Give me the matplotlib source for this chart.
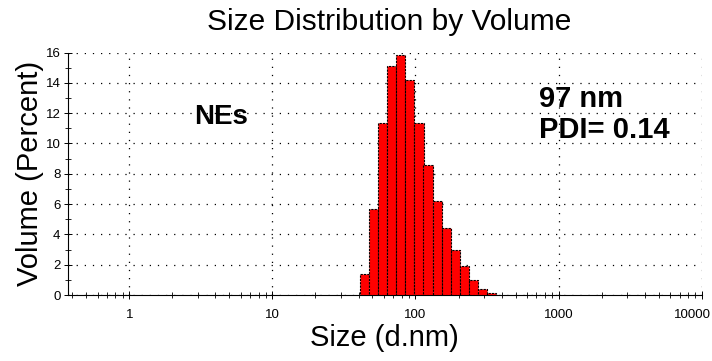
import numpy as np
import matplotlib
matplotlib.use("Agg")
import matplotlib.pyplot as plt
import matplotlib.transforms as mtransforms

plt.rcParams['font.family'] = ['Liberation Sans', 'DejaVu Sans']

# size classes (d.nm) and volume percent per class
sizes = [43.82, 50.75, 58.77, 68.06, 78.82, 91.28, 105.7, 122.4,
         141.8, 164.2, 190.1, 220.2, 255.0, 295.3, 342.0]
volume = [1.36, 5.65, 11.37, 15.14, 15.85, 14.16, 11.37, 8.59,
          6.20, 4.40, 2.98, 1.91, 0.96, 0.42, 0.13]

xticks = [1, 10, 100, 1000, 10000]
xticklabels = ['1', '10', '100', '1000', '10000']
yticks = [0, 2, 4, 6, 8, 10, 12, 14, 16]

W, H = 712, 361
fig = plt.figure(figsize=(W / 100, H / 100), dpi=100)
ax = fig.add_axes([67.5 / W, 1 - 295 / H, (701.7 - 67.5) / W, (295 - 52.5) / H])

# bars span the geometric midpoints between neighbouring size classes
c = np.array(sizes)
ratio = np.sqrt(c[1] / c[0])
left = c / ratio
right = c * ratio
ax.bar(left, volume, width=right - left, align='edge', color='#ff0000',
       edgecolor='black', linewidth=0.8, linestyle=(0, (2, 1)), zorder=3)

ax.set_xscale('log')
ax.set_xlim(0.37, 10000)
ax.set_ylim(0, 16)
ax.set_xticks(xticks)
ax.set_xticklabels(xticklabels)
ax.set_yticks(yticks)
ax.set_yticks(np.arange(1, 16, 2), minor=True)

ax.grid(True, which='major', color='black', linestyle=(0, (1, 5.5)), linewidth=0.9)
for side in ('top', 'right'):
    ax.spines[side].set_visible(False)
for side in ('bottom', 'left'):
    ax.spines[side].set_linestyle((0, (2, 1)))
    ax.spines[side].set_linewidth(0.8)

ax.tick_params(which='major', direction='inout', length=6, width=0.7,
               labelsize=9.5, pad=2)
ax.tick_params(which='minor', direction='inout', length=5, width=0.6)
ax.tick_params(axis='x', which='major', pad=7)

# keep the last size label inside the figure
last = ax.get_xticklabels()[-1]
last.set_transform(last.get_transform() +
                   mtransforms.ScaledTranslation(-9 / 100, 0, fig.dpi_scale_trans))

ax.set_title('Size Distribution by Volume', fontsize=21.5, pad=16.5, x=0.507)
ax.set_xlabel('Size (d.nm)', fontsize=21, labelpad=2)
ax.set_ylabel('Volume (Percent)', fontsize=21, labelpad=1)

ax.text(4.4, 11.75, 'NEs', fontsize=20, fontweight='bold', ha='center', va='center')
ax.text(730, 11.9, '97 nm\nPDI= 0.14', fontsize=21, fontweight='bold',
        ha='left', va='center', linespacing=1.15)

fig.savefig('out.png', dpi=100)
